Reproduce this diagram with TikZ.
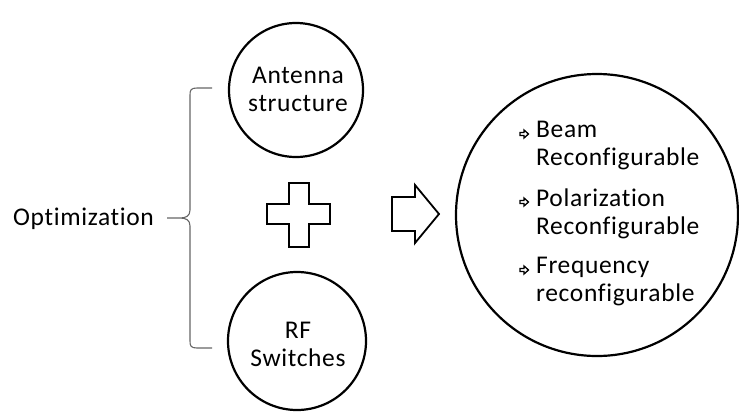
\documentclass[tikz,border=0pt]{standalone}
\usepackage{fontspec}
\setmainfont{Carlito}[LetterSpace=2.5,Ligatures={NoCommon}]
\begin{document}
\begin{tikzpicture}[x=1pt,y=-1pt,
  txt/.style={font=\fontsize{25.5}{28}\selectfont, align=center, inner sep=0pt},
  ltxt/.style={font=\fontsize{25.5}{28}\selectfont, align=left, inner sep=0pt, anchor=west},
  ring/.style={draw=black, line width=2.2pt},
  outline/.style={draw=black, line width=1.8pt, line join=miter},
  bularrow/.style={draw=black, line width=1.3pt, line join=miter}]
\useasboundingbox (0,0) rectangle (739,413);
% circles
\draw[ring] (296,90) circle[radius=67];
\node[txt] (ant) at (298,89) {Antenna\\structure};
\draw[ring] (297,341) circle[radius=69];
\node[txt] (rf) at (298,344) {RF\\Switches};
\draw[ring] (597,215) circle[radius=141];
% optimization text
\node[ltxt] (opt) at (13,219) {Optimization};
% brace
\draw[draw=black!60, line width=1.1pt]
  (212,88) -- (197,88) .. controls (191,88) and (190,90) .. (190,95)
  -- (190,210) .. controls (190,216) and (186,218) .. (180,218) -- (167,218)
  (180,218) .. controls (186,218) and (190,220) .. (190,226)
  -- (190,341) .. controls (190,346) and (191,348) .. (197,348) -- (212,348);
% plus
\draw[outline] (289,183) -- (309,183) -- (309,204) -- (330,204) -- (330,224)
  -- (309,224) -- (309,247) -- (289,247) -- (289,224) -- (267,224)
  -- (267,204) -- (289,204) -- cycle;
% arrow
\draw[outline] (392,197) -- (415,197) -- (415,185) -- (439,214) -- (415,243)
  -- (415,231) -- (392,231) -- cycle;
% result items
\foreach \n/\yy in {b1/134,b2/202,b3/270}{
  \coordinate (\n) at (524,\yy);
  \draw[bularrow] ([shift={(-4,-1.5)}]\n) -- ++(4,0) -- ++(0,-2.5) -- ++(4.5,4)
    -- ++(-4.5,4) -- ++(0,-2.5) -- ++(-4,0) -- cycle;
}
\node[ltxt] (t1) at (536,146) {Beam\\Reconfigurable};
\node[ltxt] (t2) at (536,214) {Polarization\\Reconfigurable};
\node[ltxt] (t3) at (536,282) {Frequency\\reconfigurable};
\end{tikzpicture}
\end{document}
